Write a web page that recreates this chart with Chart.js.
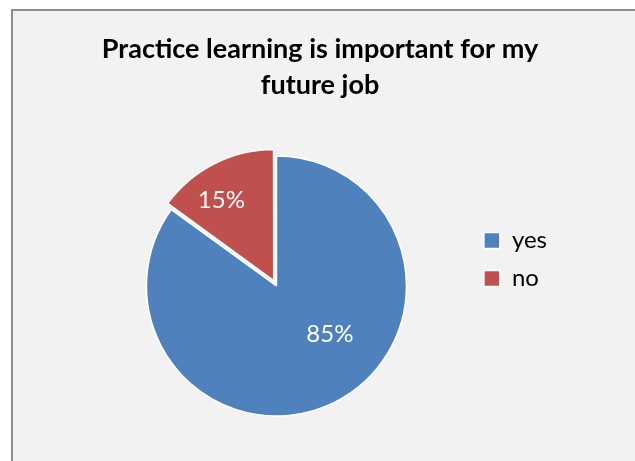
<!DOCTYPE html>
<html>
<head>
<meta charset="utf-8">
<script src="https://cdn.jsdelivr.net/npm/chart.js@4/dist/chart.umd.min.js"></script>
<style>
  html, body { margin: 0; padding: 0; background: #ffffff; overflow: hidden; width: 635px; height: 461px; }
  #frame { position: absolute; left: 11px; top: 9px; width: 640px; height: 470px;
           background: #f2f2f2; border-left: 2px solid #8f8f8f; border-top: 2px solid #8f8f8f; }
  #c { position: absolute; left: 0; top: 0; }
</style>
</head>
<body>
<div id="frame"><canvas id="c" width="622" height="450"></canvas></div>
<script>
// ---- data ----
const categories = ['yes', 'no'];
const values = [85, 15];
const colors = ['#4f81bd', '#c0504d'];
const titleLines = ['Practice learning is important for my', 'future job'];

// percentage labels drawn on each slice
const pctLabels = {
  id: 'pctLabels',
  afterDatasetsDraw(chart, args, opts) {
    const ctx = chart.ctx;
    const meta = chart.getDatasetMeta(0);
    const data = chart.data.datasets[0].data;
    const total = data.reduce((a, b) => a + b, 0);
    ctx.save();
    ctx.font = opts.font;
    ctx.fillStyle = opts.color;
    ctx.textAlign = 'center';
    ctx.textBaseline = 'middle';
    meta.data.forEach((arc, i) => {
      const p = arc.getProps(['x', 'y', 'startAngle', 'endAngle', 'outerRadius'], true);
      const shift = (arc.options.offset || 0) / 4;
      const mid = (p.startAngle + p.endAngle) / 2;
      const cx = p.x + Math.cos(mid) * shift;
      const cy = p.y + Math.sin(mid) * shift;
      const a = mid + opts.angleShift[i] * Math.PI / 180;
      const r = p.outerRadius * opts.radius[i];
      ctx.fillText(Math.round(data[i] / total * 100) + '%', cx + Math.cos(a) * r, cy + Math.sin(a) * r);
    });
    ctx.restore();
  }
};

// move the legend block vertically (Excel-like placement)
const legendShift = {
  id: 'legendShift',
  afterLayout(chart, args, opts) {
    const l = chart.legend;
    if (!l) return;
    l.top += opts.dy; l.bottom += opts.dy;
  }
};

new Chart(document.getElementById('c'), {
  type: 'pie',
  data: {
    labels: categories,
    datasets: [{
      data: values,
      backgroundColor: colors,
      borderColor: '#ffffff',
      borderWidth: 1.5,
      offset: [0, 24],
      radius: 130
    }]
  },
  options: {
    responsive: false,
    animation: false,
    devicePixelRatio: 1,
    events: [],
    layout: { padding: { left: 70, right: 78, top: 0, bottom: 1 } },
    plugins: {
      tooltip: { enabled: false },
      title: {
        display: true,
        text: titleLines,
        color: '#000000',
        font: { family: 'Lato', size: 27, weight: 'bold', lineHeight: 36 / 27 },
        padding: { top: 20, bottom: 9 }
      },
      legend: {
        display: true,
        position: 'right',
        align: 'center',
        labels: {
          boxWidth: 16,
          boxHeight: 16,
          padding: 14,
          color: '#000000',
          font: { family: 'Lato', size: 24 }
        }
      },
      legendShift: { dy: 24 },
      pctLabels: {
        font: '24px Lato',
        color: '#ffffff',
        radius: [0.553, 0.74],
        angleShift: [-21, -6]
      }
    }
  },
  plugins: [pctLabels, legendShift]
});
</script>
</body>
</html>
